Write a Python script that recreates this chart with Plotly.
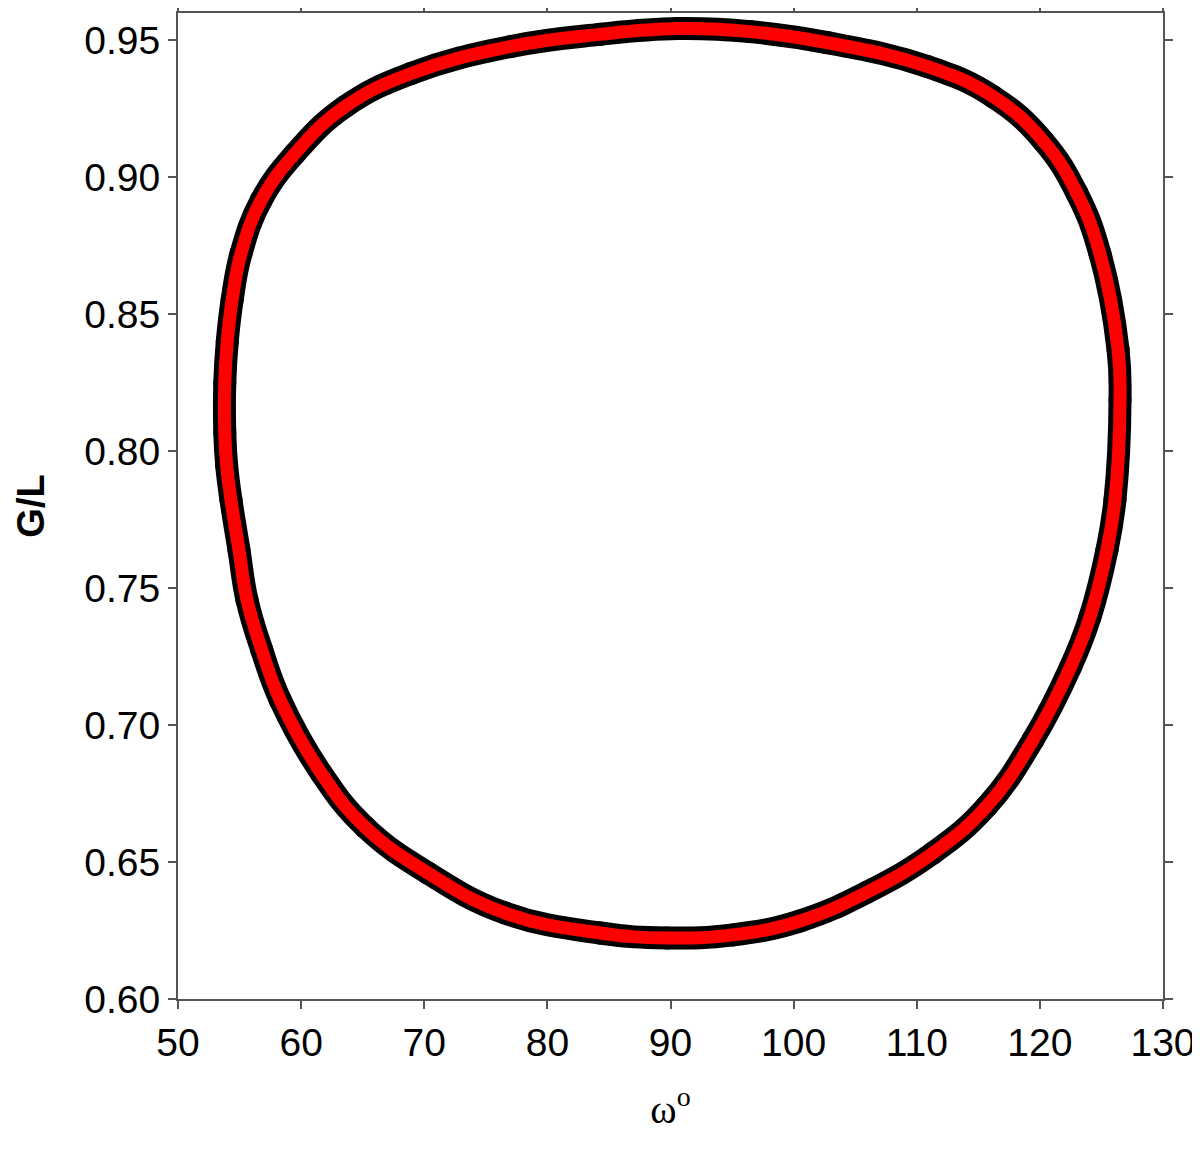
import plotly.graph_objects as go

# Closed orbit in the (omega, G/L) plane
# (starts and ends at the top of the loop, going clockwise)
omega_deg = [90.61, 96.46, 102.71, 110.83, 116.19, 120.25, 123.02, 124.88, 126.35, 126.51,
             126.10, 125.45, 124.07, 122.50, 119.44, 115.71, 111.32, 105.96, 100.52, 95.08,
             89.72, 84.27, 76.50, 70.30, 65.19, 61.61, 58.30, 56.80, 55.60, 54.95,
             54.30, 53.95, 53.80, 53.80, 54.00, 54.40, 55.12, 56.74, 59.50, 63.56,
             68.92, 77.05, 84.27, 90.61]
g_over_l = [0.9543, 0.9532, 0.9492, 0.9405, 0.9295, 0.9134, 0.8941, 0.8721, 0.8371, 0.8188,
            0.7823, 0.7640, 0.7395, 0.7213, 0.6946, 0.6705, 0.6533, 0.6390, 0.6285, 0.6234,
            0.6223, 0.6241, 0.6315, 0.6460, 0.6628, 0.6826, 0.7092, 0.7275, 0.7458, 0.7640,
            0.7823, 0.7950, 0.8068, 0.8250, 0.8400, 0.8553, 0.8722, 0.8915, 0.9087, 0.9258,
            0.9379, 0.9478, 0.9522, 0.9543]

x_ticks = [50, 60, 70, 80, 90, 100, 110, 120, 130]
y_ticks = [0.60, 0.65, 0.70, 0.75, 0.80, 0.85, 0.90, 0.95]
y_tick_labels = ["0.60", "0.65", "0.70", "0.75", "0.80", "0.85", "0.90", "0.95"]

fig = go.Figure()
# numerical points (black, thick)
fig.add_trace(go.Scatter(
    x=omega_deg, y=g_over_l, mode="lines+markers",
    line=dict(color="black", width=23, shape="spline", smoothing=1.2),
    marker=dict(color="black", size=23),
    showlegend=False, hoverinfo="skip"))
# analytic curve (red)
fig.add_trace(go.Scatter(
    x=omega_deg, y=g_over_l, mode="lines",
    line=dict(color="#ff0000", width=13, shape="spline", smoothing=1.2),
    showlegend=False, hoverinfo="skip"))

axis_font = dict(family="Liberation Sans, Arial, sans-serif", size=39, color="black")
fig.update_xaxes(range=[50, 130], tickvals=x_ticks, ticktext=[str(v) for v in x_ticks],
                 ticks="outside", ticklen=8, tickwidth=2, tickcolor="#555",
                 showline=True, linecolor="#555", linewidth=2, mirror="ticks",
                 showgrid=False, zeroline=False, tickfont=axis_font, automargin=False,
                 title=dict(text="ω<sup>o</sup>", standoff=32,
                            font=dict(family="Liberation Serif, Times New Roman, serif",
                                      size=40, color="black")))
fig.update_yaxes(range=[0.60, 0.960], tickvals=y_ticks, ticktext=y_tick_labels,
                 ticks="outside", ticklen=8, tickwidth=2, tickcolor="#555",
                 showline=True, linecolor="#555", linewidth=2, mirror="ticks",
                 showgrid=False, zeroline=False, tickfont=axis_font, automargin=False,
                 title=dict(text="<b>G/L</b>", standoff=28,
                            font=dict(family="Liberation Sans, Arial, sans-serif",
                                      size=38, color="black")))

# the page body adds an 8 px offset; margins compensate for it
fig.update_layout(
    width=1192, height=1141,
    margin=dict(l=170, r=37, t=5, b=150),
    paper_bgcolor="white", plot_bgcolor="white",
)

fig.write_html("out.html")
